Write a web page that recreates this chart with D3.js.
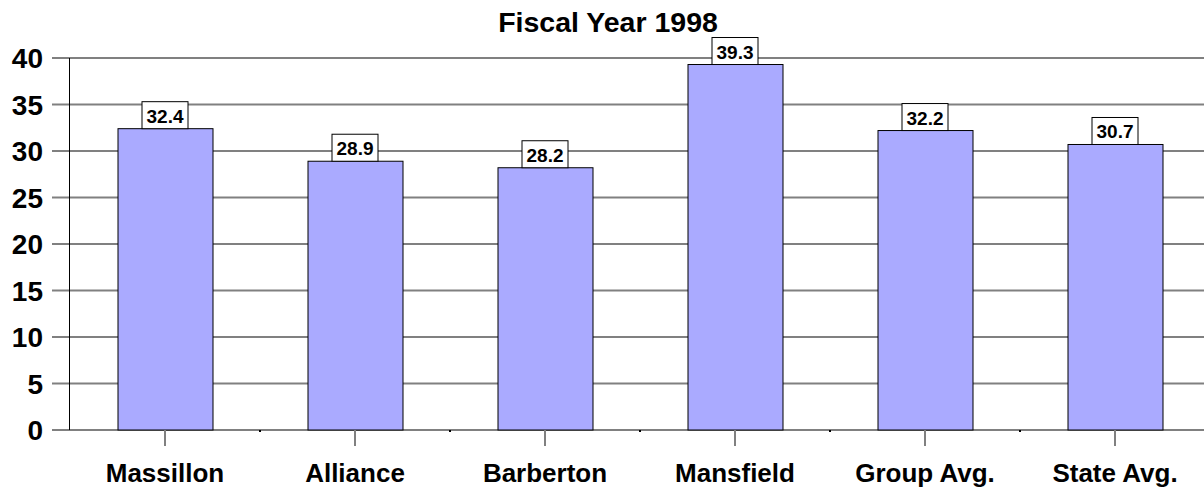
<!DOCTYPE html>
<html><head><meta charset="utf-8">
<script src="https://cdn.jsdelivr.net/npm/d3@7"></script>
<style>body{margin:0;background:#fff;}svg{display:block;font-family:Arial,"Liberation Sans",sans-serif;}</style>
</head><body>
<script>
const categories = ["Massillon","Alliance","Barberton","Mansfield","Group Avg.","State Avg."];
const values = [32.4, 28.9, 28.2, 39.3, 32.2, 30.7];
const valueLabels = ["32.4","28.9","28.2","39.3","32.2","30.7"];
const yTicks = [0,5,10,15,20,25,30,35,40];
const title = "Fiscal Year 1998";

const W = 1204, H = 489;
const svg = d3.select("body").append("svg").attr("width", W).attr("height", H);

const y = d3.scaleLinear().domain([0, 40]).range([430, 58]);
const x = d3.scaleBand().domain(categories).range([70, 1210]).paddingInner(0.5).paddingOuter(0.25);

// gridlines
svg.append("g").selectAll("line").data(yTicks).join("line")
  .attr("x1", 52).attr("x2", W)
  .attr("y1", d => y(d)).attr("y2", d => y(d))
  .attr("stroke", "#808080").attr("stroke-width", 2);

// y axis line
svg.append("line").attr("x1", 69.5).attr("x2", 69.5).attr("y1", y(40)).attr("y2", y(0))
  .attr("stroke", "#000").attr("stroke-width", 1);

// y tick labels
svg.append("g").selectAll("text").data(yTicks).join("text")
  .attr("x", 43).attr("y", d => y(d)).attr("dy", "0.36em")
  .attr("text-anchor", "end").attr("font-size", 28).attr("font-weight", "bold")
  .text(d => d);

// bars
svg.append("g").selectAll("rect").data(values).join("rect")
  .attr("x", (d, i) => x(categories[i]) + 0.5)
  .attr("y", d => y(d))
  .attr("width", x.bandwidth())
  .attr("height", d => y(0) - y(d))
  .attr("fill", "#AAAAFF").attr("stroke", "#000").attr("stroke-width", 1);

// x ticks at category centers
svg.append("g").selectAll("line").data(categories).join("line")
  .attr("x1", d => x(d) + x.bandwidth() / 2).attr("x2", d => x(d) + x.bandwidth() / 2)
  .attr("y1", y(0)).attr("y2", y(0) + 16)
  .attr("stroke", "#808080").attr("stroke-width", 2);

// boundary dots
const step = x.step();
svg.append("g").selectAll("rect").data(categories.slice(0, -1)).join("rect")
  .attr("x", d => x(d) + x.bandwidth() / 2 + step / 2 - 1)
  .attr("y", y(0)).attr("width", 2).attr("height", 2).attr("fill", "#000");

// x labels
svg.append("g").selectAll("text").data(categories).join("text")
  .attr("x", d => x(d) + x.bandwidth() / 2).attr("y", 482)
  .attr("text-anchor", "middle").attr("font-size", 26).attr("font-weight", "bold")
  .text(d => d);

// value label boxes
const lg = svg.append("g").selectAll("g").data(values).join("g")
  .attr("transform", (d, i) => `translate(${x(categories[i]) + x.bandwidth() / 2},${y(d)})`);
lg.append("rect").attr("x", -23).attr("y", -27).attr("width", 46).attr("height", 27)
  .attr("fill", "#fff").attr("stroke", "#000").attr("stroke-width", 1);
lg.append("text").attr("x", 0).attr("y", -6).attr("text-anchor", "middle")
  .attr("font-size", 19).attr("font-weight", "bold").text((d, i) => valueLabels[i]);

// title
svg.append("text").attr("x", 608).attr("y", 32).attr("text-anchor", "middle")
  .attr("font-size", 28.5).attr("font-weight", "bold").text(title);
</script>
</body></html>
